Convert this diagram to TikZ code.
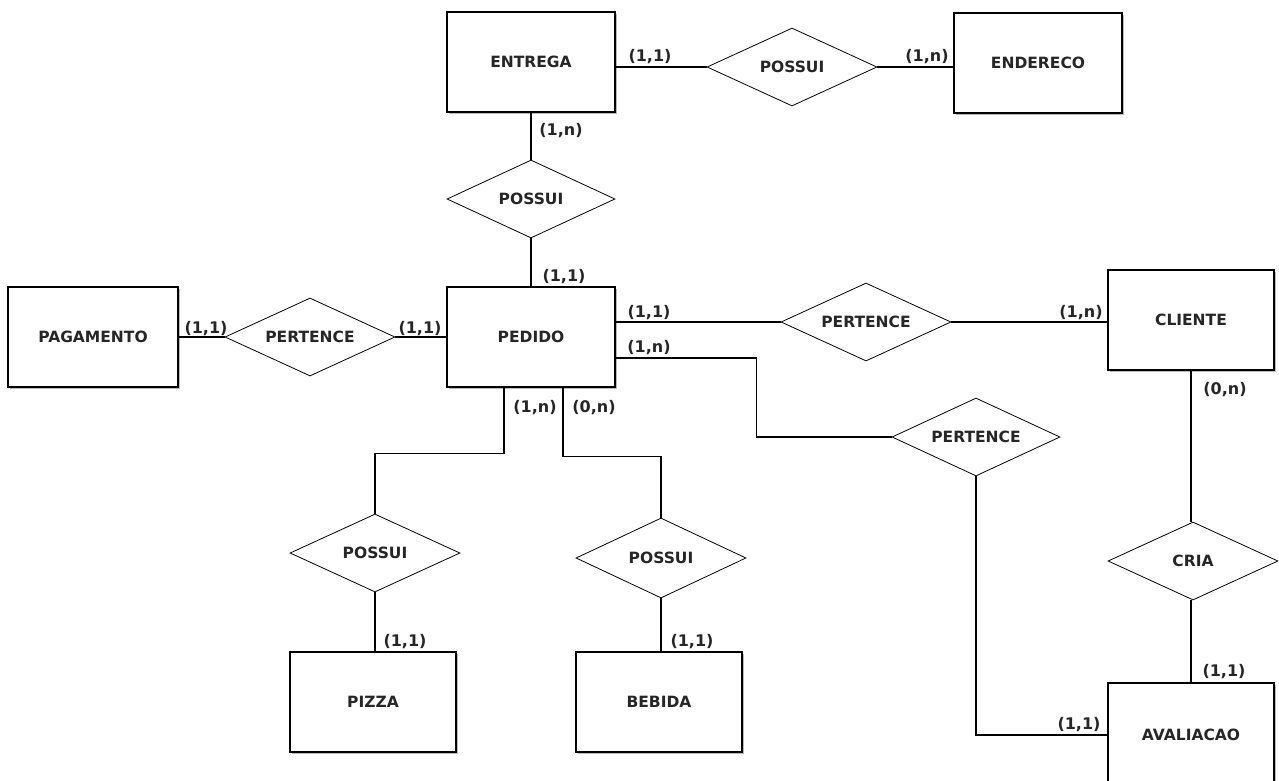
\documentclass[tikz,border=0pt]{standalone}
\usepackage{fontspec}
\setmainfont{DejaVu Sans}
\usetikzlibrary{shapes.geometric,shadows}
\tikzset{
  lbl/.style={font=\bfseries\fontsize{15.5}{17}\selectfont, text=black!85},
  entity/.style={draw, line width=1.3pt, fill=white, minimum width=168pt, minimum height=100pt,
    inner sep=0pt, lbl,
    general shadow={shadow xshift=2pt, shadow yshift=-2pt, fill=gray!55}},
  relation/.style={draw, diamond, aspect=2, inner sep=0pt, line width=0.8pt, fill=white,
    minimum width=170pt, minimum height=78pt, lbl},
  conn/.style={line width=1.1pt},
  card/.style={inner sep=0pt, font=\bfseries\fontsize{16}{18}\selectfont, text=black!85}
}
\begin{document}
\begin{tikzpicture}[x=1pt,y=-1pt]
\useasboundingbox (0,0) rectangle (1279,780);
\begin{scope}
\clip (0,0) rectangle (1279,780);
% entities
\node[entity] (entrega)   at (531,62)   {ENTREGA};
\node[entity] (endereco)  at (1038,63)  {ENDERECO};
\node[entity, minimum width=170pt] (pagamento) at (93,337) {PAGAMENTO};
\node[entity] (pedido)    at (531,337)  {PEDIDO};
\node[entity, minimum width=166pt] (cliente)   at (1191,320) {CLIENTE};
\node[entity, minimum width=166pt] (pizza)     at (373,702)  {PIZZA};
\node[entity, minimum width=166pt] (bebida)    at (659,702)  {BEBIDA};
\node[entity, minimum width=166pt, minimum height=104pt] (avaliacao) at (1191,735) {AVALIACAO};
% relations
\node[relation] (possuiA)  at (792,67)  {POSSUI};
\node[relation, minimum width=168pt] (possuiB)  at (531,199) {POSSUI};
\node[relation] (pertA)    at (310,337) {PERTENCE};
\node[relation] (pertB)    at (866,322) {PERTENCE};
\node[relation, minimum width=168pt] (pertC)    at (976,437) {PERTENCE};
\node[relation] (possuiC)  at (375,553) {POSSUI};
\node[relation, minimum height=80pt] (possuiD)  at (661,558) {POSSUI};
\node[relation] (cria)     at (1193,561) {CRIA};
% connectors
\draw[conn] (entrega.east |- possuiA.west) -- (possuiA.west);
\draw[conn] (possuiA.east) -- (endereco.west |- possuiA.east);
\draw[conn] (entrega.south) -- (possuiB.north);
\draw[conn] (possuiB.south) -- (pedido.north);
\draw[conn] (pagamento.east) -- (pertA.west);
\draw[conn] (pertA.east) -- (pedido.west);
\draw[conn] (pedido.east |- pertB.west) -- (pertB.west);
\draw[conn] (pertB.east) -- (cliente.west |- pertB.east);
\draw[conn] ([yshift=-21pt]pedido.east) -- ++(141,0) |- (pertC.west);
\draw[conn] (pertC.south) |- (avaliacao.west);
\draw[conn] (cliente.south) -- (cliente.south |- cria.north);
\draw[conn] (cliente.south |- cria.south) -- (avaliacao.north);
\draw[conn] ([xshift=-27pt]pedido.south) -- ++(0,66) -| (possuiC.north);
\draw[conn] ([xshift=32pt]pedido.south) -- ++(0,69) -| (possuiD.north);
\draw[conn] (possuiC.south) -- (pizza.north -| possuiC.south);
\draw[conn] (possuiD.south) -- (bebida.north -| possuiD.south);
% cardinalities
\node[card] (c1)  at (650,57)   {(1,1)};
\node[card] (c2)  at (927,57)   {(1,n)};
\node[card] (c3)  at (561,131)  {(1,n)};
\node[card] (c4)  at (564,277)  {(1,1)};
\node[card] (c5)  at (206,329)  {(1,1)};
\node[card] (c6)  at (420,329)  {(1,1)};
\node[card] (c7)  at (649,313)  {(1,1)};
\node[card] (c8)  at (1081,313) {(1,n)};
\node[card] (c9)  at (649,348)  {(1,n)};
\node[card] (c10) at (1225,390) {(0,n)};
\node[card] (c11) at (535,408)  {(1,n)};
\node[card] (c12) at (594,408)  {(0,n)};
\node[card] (c13) at (405,642)  {(1,1)};
\node[card] (c14) at (692,642)  {(1,1)};
\node[card] (c15) at (1224,672) {(1,1)};
\node[card] (c16) at (1079,725) {(1,1)};
\end{scope}
\end{tikzpicture}
\end{document}
